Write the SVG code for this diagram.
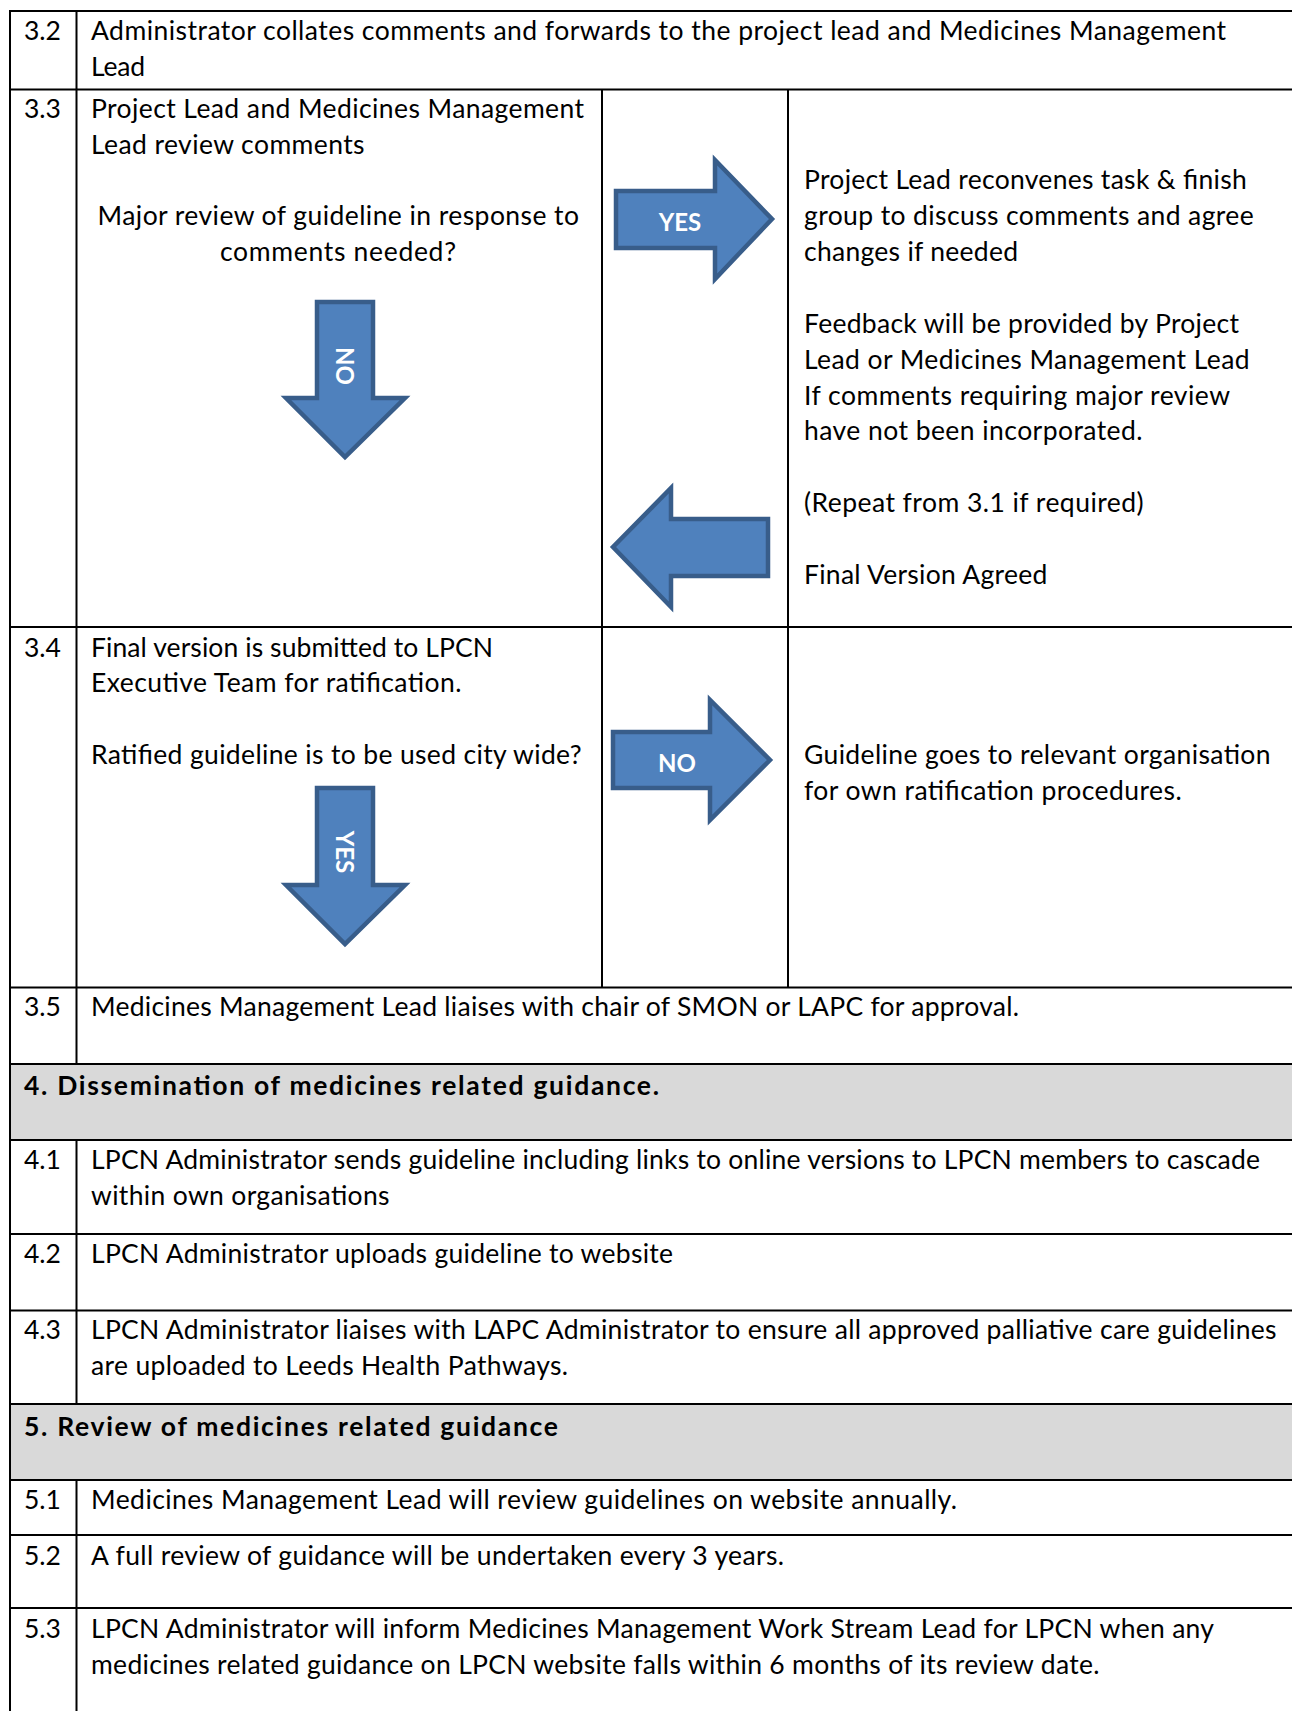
<svg xmlns="http://www.w3.org/2000/svg" width="1292" height="1711" viewBox="0 0 1292 1711">
<style>
.t{font-family:Lato,"Liberation Sans",sans-serif;font-size:26.5px;fill:#000}
.b{font-weight:bold}
.m{text-anchor:middle}
.lbl{font-family:Lato,"Liberation Sans",sans-serif;font-size:24px;font-weight:bold;fill:#fff;text-anchor:middle}
.ln{stroke:#000;stroke-width:2;fill:none}
.arr{fill:#4F81BD;stroke:#385D8A;stroke-width:4.5;stroke-linejoin:miter}
.hdr{fill:#D9D9D9}
</style>
<rect width="1292" height="1711" fill="#fff"/>
<g id="header-fills">
<rect class="hdr" x="10" y="1064" width="1282" height="76"/>
<rect class="hdr" x="10" y="1404" width="1282" height="76"/>
</g>
<g id="grid">
<path class="ln" d="M10 11H1292M10 89.5H1292M10 627H1292M10 987.5H1292M10 1064H1292M10 1140H1292M10 1234H1292M10 1310.5H1292M10 1404H1292M10 1480H1292M10 1535H1292M10 1608H1292"/>
<path class="ln" d="M10 10V1711M76.5 11V1064M76.5 1140V1404M76.5 1480V1711M602 89.5V987.5M788 89.5V987.5"/>
</g>
<g id="row-3-2">
<text class="t" x="24" y="39.5">3.2</text>
<text class="t" x="91" y="39.5" textLength="1135">Administrator collates comments and forwards to the project lead and Medicines Management</text>
<text class="t" x="91" y="75.5" textLength="54">Lead</text>
</g>
<g id="row-3-3">
<text class="t" x="24" y="117.5">3.3</text>
<text class="t" x="91" y="117.5" textLength="493">Project Lead and Medicines Management</text>
<text class="t" x="91" y="153.5" textLength="273.6">Lead review comments</text>
<text class="t m" x="338.3" y="224.5" textLength="481.4">Major review of guideline in response to</text>
<text class="t m" x="338" y="260.5" textLength="236">comments needed?</text>
</g>
<g id="row-3-3-outcome">
<text class="t" x="804" y="188.5" textLength="442.7">Project Lead reconvenes task &amp; finish</text>
<text class="t" x="804" y="224.5" textLength="449.7">group to discuss comments and agree</text>
<text class="t" x="804" y="260.5" textLength="214">changes if needed</text>
<text class="t" x="804" y="332.5" textLength="435">Feedback will be provided by Project</text>
<text class="t" x="804" y="368.5" textLength="445.6">Lead or Medicines Management Lead</text>
<text class="t" x="804" y="404.5" textLength="426">If comments requiring major review</text>
<text class="t" x="804" y="439.5" textLength="338.6">have not been incorporated.</text>
<text class="t" x="804" y="511.5" textLength="339.6">(Repeat from 3.1 if required)</text>
<text class="t" x="804" y="583.5" textLength="243.3">Final Version Agreed</text>
</g>
<g id="row-3-4">
<text class="t" x="24" y="656.7">3.4</text>
<text class="t" x="91" y="656.7" textLength="402">Final version is submitted to LPCN</text>
<text class="t" x="91" y="691.7" textLength="370.5">Executive Team for ratification.</text>
<text class="t" x="91" y="763.5" textLength="490.6">Ratified guideline is to be used city wide?</text>
</g>
<g id="row-3-4-outcome">
<text class="t" x="804" y="763.5" textLength="466.5">Guideline goes to relevant organisation</text>
<text class="t" x="804" y="799.5" textLength="377.7">for own ratification procedures.</text>
</g>
<g id="row-3-5">
<text class="t" x="24" y="1015.5">3.5</text>
<text class="t" x="91" y="1015.5" textLength="928">Medicines Management Lead liaises with chair of SMON or LAPC for approval.</text>
</g>
<g id="section-4">
<text class="t b" x="24" y="1095.3" textLength="635">4. Dissemination of medicines related guidance.</text>
</g>
<g id="row-4-1">
<text class="t" x="24" y="1168.5">4.1</text>
<text class="t" x="91" y="1168.5" textLength="1169">LPCN Administrator sends guideline including links to online versions to LPCN members to cascade</text>
<text class="t" x="91" y="1204.5" textLength="298.5">within own organisations</text>
</g>
<g id="row-4-2">
<text class="t" x="24" y="1263.3">4.2</text>
<text class="t" x="91" y="1263.3" textLength="582">LPCN Administrator uploads guideline to website</text>
</g>
<g id="row-4-3">
<text class="t" x="24" y="1338.5">4.3</text>
<text class="t" x="91" y="1338.5" textLength="1185.5">LPCN Administrator liaises with LAPC Administrator to ensure all approved palliative care guidelines</text>
<text class="t" x="91" y="1374.7" textLength="477">are uploaded to Leeds Health Pathways.</text>
</g>
<g id="section-5">
<text class="t b" x="24" y="1436" textLength="534">5. Review of medicines related guidance</text>
</g>
<g id="row-5-1">
<text class="t" x="24" y="1508.5">5.1</text>
<text class="t" x="91" y="1508.5" textLength="866">Medicines Management Lead will review guidelines on website annually.</text>
</g>
<g id="row-5-2">
<text class="t" x="24" y="1564.8">5.2</text>
<text class="t" x="91" y="1564.8" textLength="693">A full review of guidance will be undertaken every 3 years.</text>
</g>
<g id="row-5-3">
<text class="t" x="24" y="1637.8">5.3</text>
<text class="t" x="91" y="1637.8" textLength="1123">LPCN Administrator will inform Medicines Management Work Stream Lead for LPCN when any</text>
<text class="t" x="91" y="1673.5" textLength="1008.5">medicines related guidance on LPCN website falls within 6 months of its review date.</text>
</g>
<g id="connectors">
<g id="arrow-3-3-yes">
<polygon class="arr" points="616,191 715,191 715,160 772,219 715,279 715,248 616,248"/>
<text class="lbl" x="680" y="230.5">YES</text>
</g>
<g id="arrow-3-3-no">
<polygon class="arr" points="317,302 373,302 373,398 405,398 345,457 286,398 317,398"/>
<text class="lbl" transform="translate(336,366) rotate(90)" x="0" y="0">NO</text>
</g>
<g id="arrow-3-3-back">
<polygon class="arr" points="768,519 768,576 671,576 671,607 613,547 671,488 671,519"/>
</g>
<g id="arrow-3-4-no">
<polygon class="arr" points="613,732 710,732 710,700 770,760 710,820 710,788 613,788"/>
<text class="lbl" x="677" y="772">NO</text>
</g>
<g id="arrow-3-4-yes">
<polygon class="arr" points="317,788 373,788 373,885 405,885 345,944 286,885 317,885"/>
<text class="lbl" transform="translate(336,852) rotate(90)" x="0" y="0">YES</text>
</g>
</g>
</svg>
